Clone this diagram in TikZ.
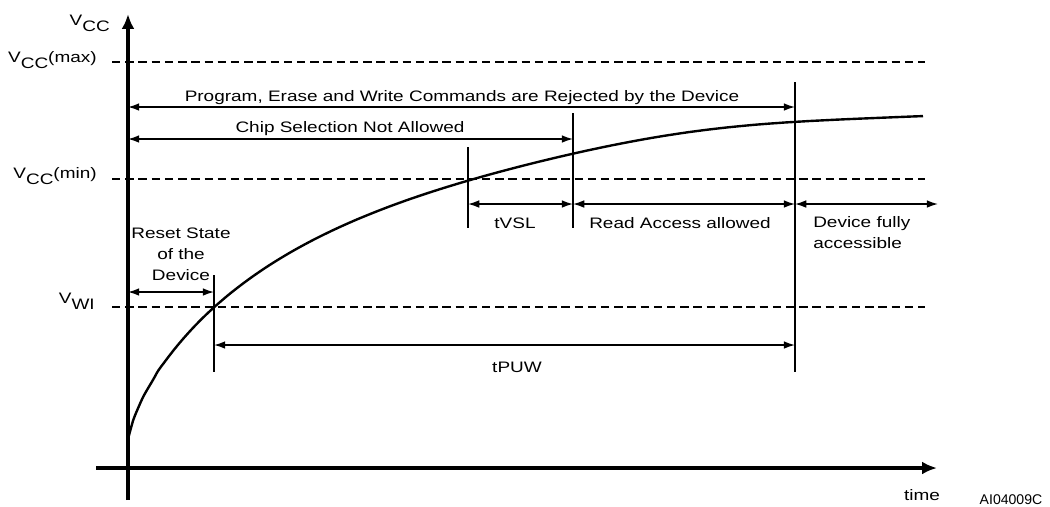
\documentclass[tikz,border=0pt]{standalone}
\usepackage{fontspec}
\setmainfont{Liberation Sans}[FakeStretch=1.25]
\newfontfamily\tagfont{Liberation Sans}
\usetikzlibrary{arrows.meta}
\usetikzlibrary{positioning}
\newcommand{\vlab}[2]{V\raisebox{-4.3pt}{#1}#2}
\tikzset{every node/.style={inner sep=0pt,font=\fontsize{10.8}{15}\selectfont},
  axis/.style={line width=2.6pt,-{Latex[length=10.5pt,width=9pt]}},
  level/.style={line width=1.1pt,dash pattern=on 6pt off 3.4pt},
  tickline/.style={line width=1.1pt},
  span/.style={line width=1.1pt,{Latex[length=8pt,width=5.5pt]}-{Latex[length=8pt,width=5.5pt]}},
  supply/.style={line width=1.7pt,line join=round}}

\begin{document}
\begin{tikzpicture}[x=0.25mm,y=-0.25mm]
\useasboundingbox (0,0) rectangle (1050,506);

% axes
\coordinate (xl) at (96,468);
\coordinate (xr) at (937,468);
\coordinate (yb) at (128,500);
\coordinate (yt) at (128,14);
\draw[axis] (xl) -- (xr);
\draw[axis] (yb) -- (yt);
\node (lTime) [anchor=base] at (922,500) {time};
\node (lTag) [anchor=base,font=\tagfont\fontsize{10}{12}\selectfont] at (1011,504) {AI04009C};

% voltage levels
\node (lVcc) [anchor=base east] at (110,25) {\vlab{CC}{}};
\node (lVmax) [anchor=base east] at (97,62) {\vlab{CC}{(max)}};
\node (lVmin) [anchor=base east] at (97,178) {\vlab{CC}{(min)}};
\node (lVwi) [anchor=base east] at (95,303) {\vlab{WI}{}};
\coordinate (max0) at (112,62);  \coordinate (max1) at (925,62);
\coordinate (min0) at (112,179); \coordinate (min1) at (925,179);
\coordinate (wi0) at (112,307);  \coordinate (wi1) at (925,307);
\draw[level] (max0) -- (max1);
\draw[level] (min0) -- (min1);
\draw[level] (wi0) -- (wi1);

% supply ramp
\draw[supply] plot[domain=0.2:795,samples=160,smooth,variable=\t]
  ({128+\t},{440-350*(1-exp(-(\t/231)^0.75))-8*exp(-((\t-580)/180)^2)});

% time marks
\coordinate (t1a) at (214,275); \coordinate (t1b) at (214,372);
\coordinate (t2a) at (468,147); \coordinate (t2b) at (468,228);
\coordinate (t3a) at (573,113); \coordinate (t3b) at (573,228);
\coordinate (t4a) at (795,82);  \coordinate (t4b) at (795,372);
\draw[tickline] (t1a) -- (t1b);
\draw[tickline] (t2a) -- (t2b);
\draw[tickline] (t3a) -- (t3b);
\draw[tickline] (t4a) -- (t4b);

% intervals
\coordinate (pg0) at (128,107); \coordinate (pg1) at (795,107);
\draw[span] (pg0) -- (pg1);
\node (lProg) [anchor=base] at (462,101) {Program, Erase and Write Commands are Rejected by the Device};

\coordinate (cs0) at (128,139); \coordinate (cs1) at (573,139);
\draw[span] (cs0) -- (cs1);
\node (lChip) [anchor=base] at (350,132) {Chip Selection Not Allowed};

\coordinate (rs0) at (128,292); \coordinate (rs1) at (214,292);
\draw[span] (rs0) -- (rs1);
\node (lReset) [anchor=south,align=center] at (181,281) {Reset State\\of the\\Device};

\coordinate (pu0) at (214,345); \coordinate (pu1) at (795,345);
\draw[span] (pu0) -- (pu1);
\node (lPUW) [anchor=base] at (517,372) {tPUW};

\coordinate (vs0) at (468,204); \coordinate (vs1) at (573,204);
\coordinate (ra1) at (795,204); \coordinate (fa1) at (938,204);
\draw[span] (vs0) -- (vs1);
\draw[span] (vs1) -- (ra1);
\draw[span] (ra1) -- (fa1);
\node (lVSL) [anchor=base] at (515,228) {tVSL};
\node (lRead) [anchor=base] at (680,228) {Read Access allowed};
\node (lFull) [anchor=north west,align=left] at (813,216) {Device fully\\accessible};
\end{tikzpicture}
\end{document}
